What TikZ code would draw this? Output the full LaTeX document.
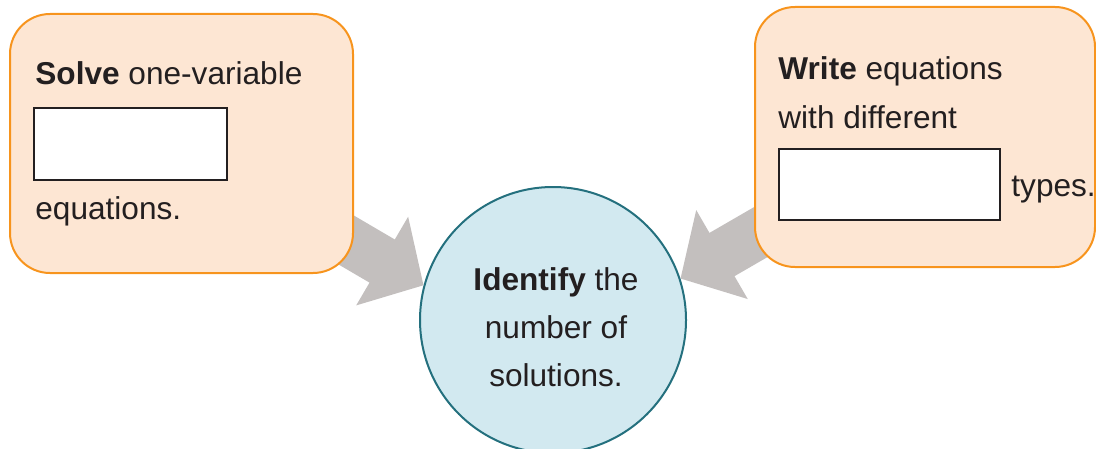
\documentclass[tikz,border=0pt]{standalone}
\usepackage{fontspec}
\setmainfont{Liberation Sans}
\usetikzlibrary{arrows.meta,backgrounds,positioning}

\definecolor{boxorange}{HTML}{F7941D}
\definecolor{boxpeach}{HTML}{FDE6D3}
\definecolor{ringteal}{HTML}{24707E}
\definecolor{ringblue}{HTML}{D2E9F0}
\definecolor{arrowgrey}{HTML}{C3BFBE}
\definecolor{inkdark}{HTML}{231F20}

\begin{document}
\begin{tikzpicture}[x=0.5pt,y=-0.5pt,% one unit is one pixel, y grows downwards
        every node/.style={font=\fontsize{15.8}{24}\selectfont,text=inkdark},
        taskbox/.style={draw=boxorange,line width=1pt,fill=boxpeach,rounded corners=20pt,inner sep=0pt},
        blank/.style={draw=inkdark,line width=0.9pt,fill=white,inner sep=0pt,anchor=north west},
        note/.style={inner sep=0pt,anchor=base west},
        flow/.style={arrowgrey,line width=25pt,-{Triangle[length=24pt,width=50pt]}}]
\useasboundingbox (0,0) rectangle (1096,449);

% the two task boxes and the goal in the middle
\node[taskbox,minimum width=171.5pt,minimum height=129.5pt] (solve) at (181.5,143.5) {};
\node[taskbox,minimum width=170pt,minimum height=130pt] (write) at (925,137) {};
\node[circle,draw=ringteal,fill=ringblue,line width=1pt,minimum size=133pt,inner sep=0pt] (identify) at (553,320) {};

% left box text
\node[note] (solvetext) at (35,85) {\textbf{Solve} one-variable};
\node[blank,minimum width=96.5pt,minimum height=36pt] (solveblank) at (33,107) {};
\node[note] (solveend) at (35,219) {equations.};

% right box text
\node[note] (writetext) at (778,80) {\textbf{Write} equations};
\node[note] (writemid) at (778,128) {with different};
\node[blank,minimum width=110.5pt,minimum height=35.5pt] (writeblank) at (778,148) {};
\node[note] (writeend) at (1011,196) {types.};

% goal text
\node[align=center,inner sep=0pt] (identifytext) at (556,327) {\textbf{Identify} the\\number of\\solutions.};

% grey block arrows go under everything
\begin{scope}[on background layer]
\draw[flow] (solve.center) -- (identify.165);
\draw[flow] (write.center) -- (identify.18);
\end{scope}

\end{tikzpicture}
\end{document}
